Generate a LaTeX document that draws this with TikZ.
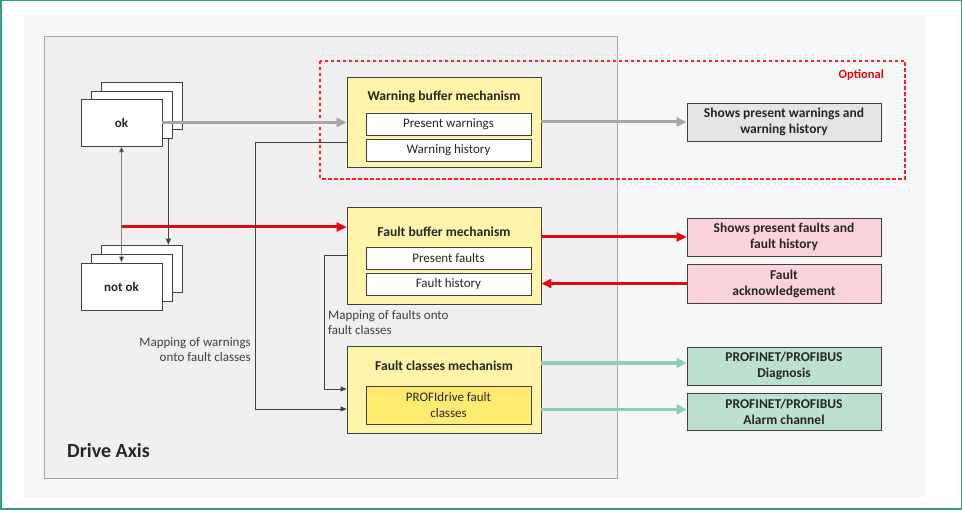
\documentclass[tikz,border=0pt]{standalone}
\usepackage{fontspec}
\setmainfont{Carlito}
\usetikzlibrary{arrows.meta,calc}
\definecolor{frameg}{HTML}{2BA37F}
\definecolor{bgc}{HTML}{F6F8F8}
\definecolor{axisc}{HTML}{F0F0F0}
\definecolor{axisb}{HTML}{A8A8A8}
\definecolor{yel}{HTML}{FFF5AA}
\definecolor{yeld}{HTML}{FFEB70}
\definecolor{pinkc}{HTML}{FBD3DB}
\definecolor{greenc}{HTML}{BDE0CF}
\definecolor{grayc}{HTML}{E5E5E5}
\definecolor{txt}{HTML}{262626}
\definecolor{lbltxt}{HTML}{404040}
\definecolor{redc}{HTML}{E30613}
\definecolor{dashc}{HTML}{FF2020}
\definecolor{grarrow}{HTML}{A6A6A6}
\definecolor{grnarrow}{HTML}{8ECFB4}
\definecolor{bord}{HTML}{404040}
\tikzset{
  bx/.style={draw=bord,line width=0.8pt,inner sep=0pt,text=txt,align=center},
  stackbox/.style={bx,fill=white,minimum width=81pt,minimum height=47pt,font=\bfseries\fontsize{13}{15}\selectfont},
  mech/.style={bx,fill=yel,minimum width=194pt},
  sub/.style={bx,fill=white,minimum width=165pt,minimum height=22pt,font=\fontsize{13}{15.5}\selectfont},
  outbox/.style={bx,minimum width=194pt,minimum height=38pt,font=\bfseries\fontsize{13.5}{16}\selectfont},
  ttl/.style={text=txt,font=\bfseries\fontsize{13.6}{16}\selectfont},
  lbl/.style={text=lbltxt,font=\fontsize{13}{15}\selectfont,inner sep=0pt},
  garr/.style={grarrow,line width=3pt,-{Triangle[length=10pt,width=9pt]}},
  rarr/.style={redc,line width=3pt,-{Triangle[length=10pt,width=9pt]}},
  narr/.style={grnarrow,line width=3.5pt,-{Triangle[length=10pt,width=10pt]}},
  thin/.style={bord,line width=0.9pt,-{Triangle[length=6pt,width=5pt]}},
}
\begin{document}
\begin{tikzpicture}[x=1pt,y=-1pt]
\useasboundingbox (0,0) rectangle (962,510);
\draw[frameg,line width=1.5pt] (0.75,0.75) rectangle (961.25,509.25);
\fill[bgc] (24,16) rectangle (925,497);
\draw[axisb,fill=axisc,line width=1pt] (44,37) rectangle (617,479);
\draw[color=dashc,line width=1.1pt,dash pattern=on 3.5pt off 2.5pt] (320,61) rectangle (905,179);
\node[anchor=east,text=redc,font=\bfseries\fontsize{12.5}{14}\selectfont,inner sep=0pt] (opt) at (884,75) {Optional};
\node[anchor=west,text=txt,font=\bfseries\fontsize{20}{24}\selectfont,inner sep=0pt] (da) at (67,451) {Drive Axis};

% ok stack
\node[stackbox] (okb3) at (142,105.5) {};
\node[stackbox] (okb2) at (131.5,114.5) {};
\node[stackbox] (ok) at (121.5,122.5) {ok};
% not ok stack
\node[stackbox] (nob3) at (141.5,268.5) {};
\node[stackbox] (nob2) at (131.5,277.5) {};
\node[stackbox] (nok) at (121.5,286.5) {not ok};

% warning buffer
\node[mech,minimum height=90pt] (wb) at (444,122) {};
\node[ttl] (wbt) at (444,97) {Warning buffer mechanism};
\node[sub] (pw) at (448.5,124) {Present warnings};
\node[sub] (wh) at (448.5,150) {Warning history};

% fault buffer
\node[mech,minimum height=97pt] (fb) at (444,255.5) {};
\node[ttl] (fbt) at (444,232) {Fault buffer mechanism};
\node[sub] (pf) at (448.5,258.5) {Present faults};
\node[sub] (fh) at (448.5,284) {Fault history};

% fault classes
\node[mech,minimum height=87pt] (fc) at (444,389.5) {};
\node[ttl] (fct) at (444,366) {Fault classes mechanism};
\node[sub,fill=yeld,minimum height=38pt] (pd) at (448.5,405) {PROFIdrive fault\\classes};

% output boxes
\node[outbox,fill=grayc] (sw) at (784,122) {Shows present warnings and\\warning history};
\node[outbox,fill=pinkc] (sf) at (784,237) {Shows present faults and\\fault history};
\node[outbox,fill=pinkc,minimum height=39pt] (fa) at (784,283.5) {Fault\\acknowledgement};
\node[outbox,fill=greenc] (pnd) at (784,366) {PROFINET/PROFIBUS\\Diagnosis};
\node[outbox,fill=greenc,minimum height=37pt] (pna) at (784,411.5) {PROFINET/PROFIBUS\\Alarm channel};

% labels
\node[lbl,anchor=north east,align=right] (lw) at (251,337) {Mapping of warnings\\onto fault classes};
\node[lbl,anchor=north west,align=left] (lf) at (328,310) {Mapping of faults onto\\fault classes};

% connectors
\coordinate (rs) at (122,227);
\coordinate (wm) at (255,409);
\coordinate (fm) at (324,389);
\draw[garr] (ok.east) -- (ok.east -| wb.west);
\draw[garr] (wb.east |- sw.west) -- (sw.west);
\draw[rarr] (rs) -- (rs -| fb.west);
\draw[rarr] (sf.west -| fb.east) -- (sf.west);
\draw[rarr] (fa.west) -- (fa.west -| fb.east);
\draw[narr] ([yshift=3pt]pnd.west -| fc.east) -- ([yshift=3pt]pnd.west);
\draw[narr] ([yshift=2pt]pna.west -| fc.east) -- ([yshift=2pt]pna.west);
\draw[gray,line width=0.9pt,{Triangle[length=6pt,width=5pt,fill=black]}-{Triangle[length=6pt,width=5pt,fill=black]}] (ok.south) -- (nok.north);
\draw[thin] ([xshift=-4pt]okb2.south east) -- ([xshift=-4pt]okb2.south east |- nob3.north);
\draw[thin] ([yshift=-20pt]wb.west) -| (wm) -- (wm -| fc.west);
\draw[thin] (fb.west) -| (fm) -- (fm -| fc.west);
\end{tikzpicture}
\end{document}
